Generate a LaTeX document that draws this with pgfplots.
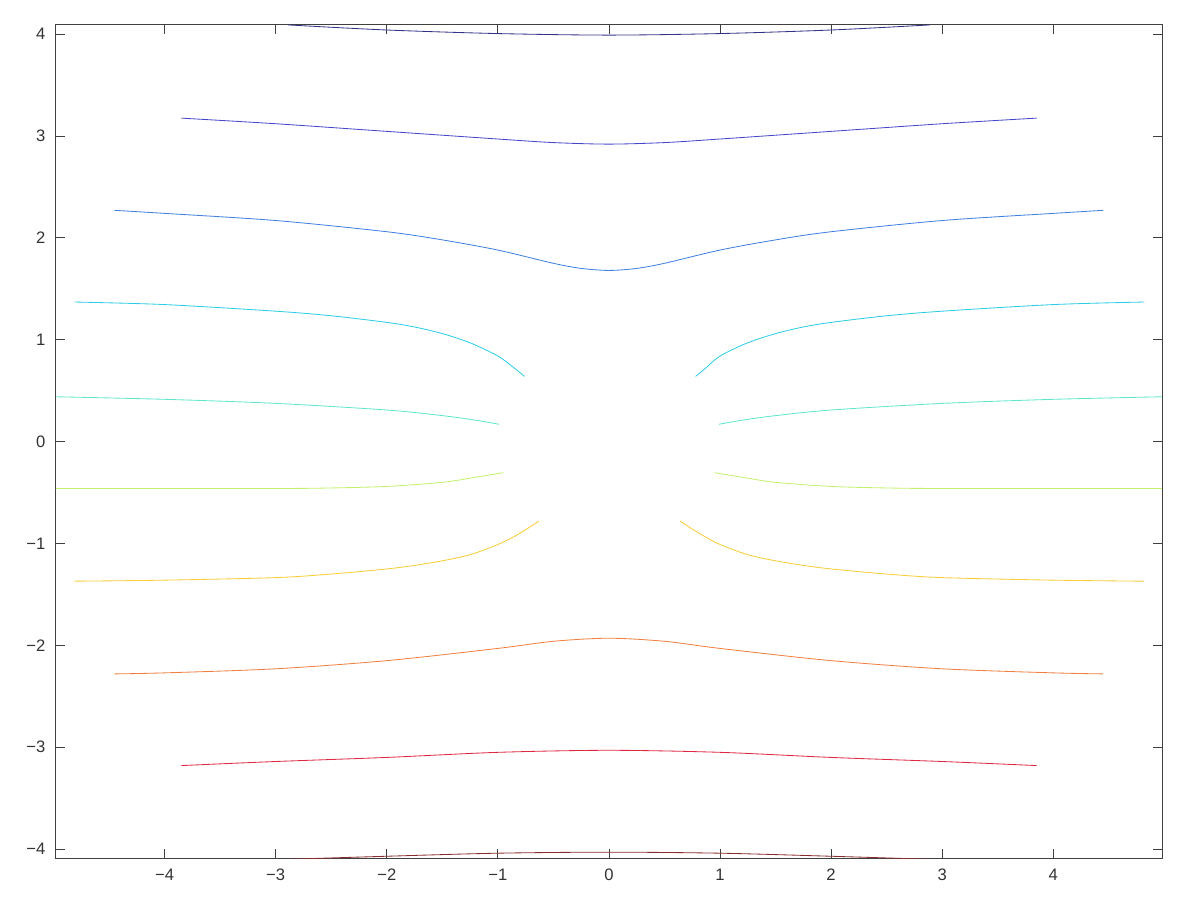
\documentclass[border=0pt]{standalone}
\usepackage{fontspec}
\setmainfont{Liberation Sans}
\usepackage{pgfplots}
\pgfplotsset{compat=1.18}

% contour colours, jet-like, top to bottom
\definecolor{c1}{RGB}{50,50,135}
\definecolor{c2}{RGB}{70,70,205}
\definecolor{c3}{RGB}{65,128,225}
\definecolor{c4}{RGB}{45,205,230}
\definecolor{c5}{RGB}{95,230,205}
\definecolor{c6}{RGB}{195,240,110}
\definecolor{c7}{RGB}{248,205,55}
\definecolor{c8}{RGB}{240,128,65}
\definecolor{c9}{RGB}{225,40,65}
\definecolor{c10}{RGB}{135,45,45}

\begin{document}
\begin{tikzpicture}
\begin{axis}[
    scale only axis,
    width=28.09cm,
    height=21.16cm,
    xmin=-4.98, xmax=4.98,
    ymin=-4.09, ymax=4.09,
    xtick={-4,-3,-2,-1,0,1,2,3,4},
    xticklabels={−4,−3,−2,−1,0,1,2,3,4},
    ytick={-4,-3,-2,-1,0,1,2,3,4},
    yticklabels={−4,−3,−2,−1,0,1,2,3,4},
    tick align=inside,
    major tick length=6.5pt,
    tick style={black!75, line width=0.6pt},
    axis line style={black!75, line width=0.6pt},
    ticklabel style={font=\fontsize{12}{14}\selectfont, text=black!80},
    xticklabel style={yshift=-4pt},
    yticklabel style={xshift=-4pt},
    every axis plot/.append style={line width=0.6pt, smooth},
    clip=true,
]

% y ~ 4
\addplot[c1] coordinates {
    (-2.89,4.09) (-2,4.04) (-1,4.005) (0,3.99) (1,4.005) (2,4.04) (2.89,4.09)
};
% y ~ 3
\addplot[c2] coordinates {
    (-3.85,3.175) (-3,3.12) (-2,3.045) (-1,2.97) (-0.5,2.935) (0,2.92)
    (0.5,2.935) (1,2.97) (2,3.045) (3,3.12) (3.85,3.175)
};
% y ~ 2
\addplot[c3] coordinates {
    (-4.45,2.27) (-4,2.24) (-3,2.17) (-2,2.06) (-1.5,1.98) (-1,1.88)
    (-0.5,1.75) (-0.25,1.70) (0,1.68) (0.25,1.70) (0.5,1.75) (1,1.88)
    (1.5,1.98) (2,2.06) (3,2.17) (4,2.24) (4.45,2.27)
};
% y ~ 1
\addplot[c4] coordinates {
    (-4.81,1.37) (-4,1.345) (-3,1.28) (-2.5,1.235) (-2,1.17) (-1.75,1.125)
    (-1.5,1.06) (-1.25,0.97) (-1.0,0.84) (-0.85,0.72) (-0.76,0.64)
};
\addplot[c4] coordinates {
    (0.78,0.64) (0.87,0.72) (1.0,0.84) (1.25,0.97) (1.5,1.06) (1.75,1.125)
    (2,1.17) (2.5,1.235) (3,1.28) (4,1.345) (4.82,1.37)
};
% y ~ 0.45
\addplot[c5] coordinates {
    (-4.98,0.44) (-4,0.415) (-3,0.375) (-2,0.31) (-1.5,0.255) (-1.2,0.21) (-0.99,0.17)
};
\addplot[c5] coordinates {
    (0.99,0.17) (1.2,0.21) (1.5,0.255) (2,0.31) (3,0.375) (4,0.415) (4.98,0.44)
};
% y ~ -0.45
\addplot[c6] coordinates {
    (-4.98,-0.46) (-3,-0.46) (-2.5,-0.455) (-2,-0.44) (-1.5,-0.40) (-1.2,-0.35) (-0.95,-0.305)
};
\addplot[c6] coordinates {
    (0.95,-0.305) (1.2,-0.35) (1.5,-0.40) (2,-0.44) (2.5,-0.455) (3,-0.46) (4.98,-0.46)
};
% y ~ -1.37
\addplot[c7] coordinates {
    (-4.81,-1.37) (-4,-1.36) (-3,-1.335) (-2.5,-1.30) (-2,-1.25) (-1.75,-1.215)
    (-1.5,-1.17) (-1.25,-1.11) (-1.0,-1.01) (-0.85,-0.93) (-0.75,-0.865) (-0.63,-0.78)
};
\addplot[c7] coordinates {
    (0.64,-0.78) (0.76,-0.865) (0.86,-0.93) (1.0,-1.01) (1.25,-1.11) (1.5,-1.17)
    (1.75,-1.215) (2,-1.25) (2.5,-1.30) (3,-1.335) (4,-1.36) (4.82,-1.37)
};
% y ~ -2
\addplot[c8] coordinates {
    (-4.45,-2.28) (-4,-2.27) (-3,-2.23) (-2,-2.15) (-1,-2.03) (-0.5,-1.96)
    (0,-1.93) (0.5,-1.96) (1,-2.03) (2,-2.15) (3,-2.23) (4,-2.27) (4.45,-2.28)
};
% y ~ -3
\addplot[c9] coordinates {
    (-3.85,-3.18) (-3,-3.14) (-2,-3.10) (-1,-3.05) (0,-3.03)
    (1,-3.05) (2,-3.10) (3,-3.14) (3.85,-3.18)
};
% y ~ -4
\addplot[c10] coordinates {
    (-2.89,-4.10) (-2,-4.07) (-1,-4.04) (0,-4.03) (1,-4.04) (2,-4.07) (2.89,-4.10)
};

\end{axis}

% page margins as in the reference
\path[use as bounding box]
    ([xshift=-40.3pt,yshift=-30.2pt]current axis.south west)
    rectangle ([xshift=27.4pt,yshift=18pt]current axis.north east);
\end{tikzpicture}
\end{document}
